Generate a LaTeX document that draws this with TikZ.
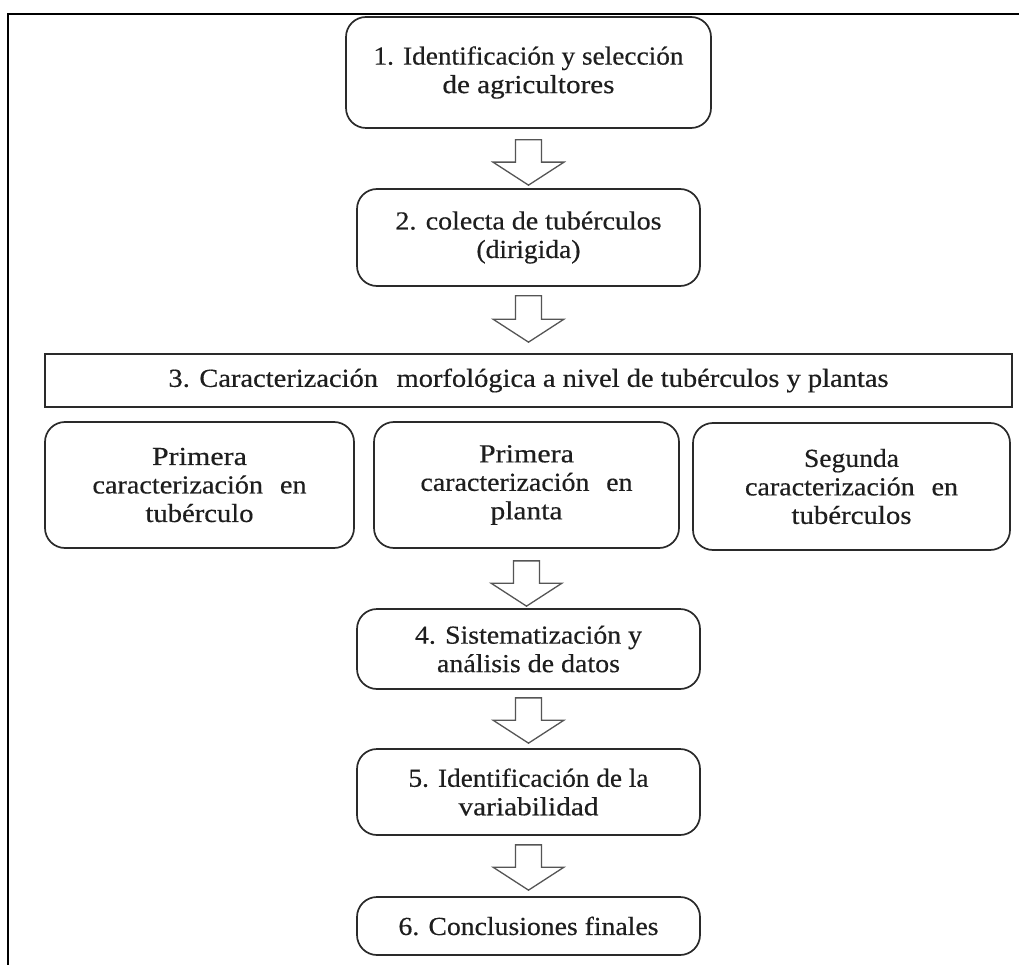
\documentclass[tikz,border=0pt]{standalone}
\usepackage{fontspec}
\usepackage{graphicx}
\setmainfont{Liberation Serif}[FakeBold=0.4]
\usetikzlibrary{calc}
\definecolor{edgecol}{HTML}{2A2A2A}
\definecolor{arrcol}{HTML}{555555}
\definecolor{txtcol}{HTML}{1E1E1E}
\tikzset{
  boxbase/.style={draw=edgecol, line width=1.7pt, fill=white, inner sep=0pt, align=center,
    font=\fontsize{26}{28.5}\selectfont, text=txtcol},
  rbox/.style={boxbase, rounded corners=20pt},
  sbox/.style={boxbase, sharp corners},
  blockarr/.style={draw=arrcol, line width=1.3pt, fill=white, line join=miter},
  frameline/.style={draw=black, line width=1.8pt}
}
% one text line set to a given width, natural height kept
\newcommand{\wl}[2]{\resizebox{#1pt}{\height}{#2}}
\newcommand{\blockarrow}[4]{%
  \draw[blockarr] let \p1=(#1.south), \p2=(#2.north) in
    (\x1-13pt,\y1-#3pt) -- (\x1+13pt,\y1-#3pt) -- (\x1+13pt,\y2+#4pt+23pt)
    -- (\x1+35.5pt,\y2+#4pt+23pt) -- (\x1,\y2+#4pt) -- (\x1-35.5pt,\y2+#4pt+23pt)
    -- (\x1-13pt,\y2+#4pt+23pt) -- cycle;}
\begin{document}
\begin{tikzpicture}[x=1pt,y=-1pt]
\useasboundingbox (0,0) rectangle (1019,965);
\fill[white] (0,0) rectangle (1019,965);
\draw[frameline] (1025,14) -- (8,14) -- (8,972);

\node[rbox, minimum width=365pt, minimum height=111pt] (b1) at (528.5,72.5)
  {\wl{310}{1. Identificación y selección}\\\wl{172}{de agricultores}};
\node[rbox, minimum width=343pt, minimum height=97pt] (b2) at (528.5,237.5)
  {\wl{266}{2. colecta de tubérculos}\\\wl{104}{(dirigida)}};
\node[sbox, minimum width=967pt, minimum height=53pt] (b3) at (528.5,380.5)
  {\wl{720}{3. Caracterización\hspace{0.4em} morfológica a nivel de tubérculos y plantas}};
\node[rbox, minimum width=309pt, minimum height=126pt] (bA) at (199.5,485)
  {\wl{95}{Primera}\\\wl{214}{caracterización\hspace{0.35em} en}\\\wl{108}{tubérculo}};
\node[rbox, minimum width=305pt, minimum height=126pt] (bB) at (526.5,485)
  {\wl{95}{Primera}\\\wl{212}{caracterización\hspace{0.35em} en}\\\wl{72}{planta}};
\node[rbox, minimum width=317pt, minimum height=127pt] (bC) at (851.5,486.5)
  {\wl{95}{Segunda}\\\wl{213}{caracterización\hspace{0.35em} en}\\\wl{120}{tubérculos}};
\node[rbox, minimum width=343pt, minimum height=80pt] (b4) at (528.5,649)
  {\wl{227}{4. Sistematización y}\\\wl{183}{análisis de datos}};
\node[rbox, minimum width=343pt, minimum height=86pt] (b5) at (528.5,792)
  {\wl{240}{5. Identificación de la}\\\wl{140}{variabilidad}};
\node[rbox, minimum width=343pt, minimum height=58pt] (b6) at (528.5,926)
  {\wl{260}{6. Conclusiones finales}};

\blockarrow{b1}{b2}{11}{3}
\blockarrow{b2}{b3}{9}{11}
\blockarrow{bB}{b4}{12}{2}
\blockarrow{b4}{b5}{8}{5}
\blockarrow{b5}{b6}{9}{6}
\end{tikzpicture}
\end{document}
